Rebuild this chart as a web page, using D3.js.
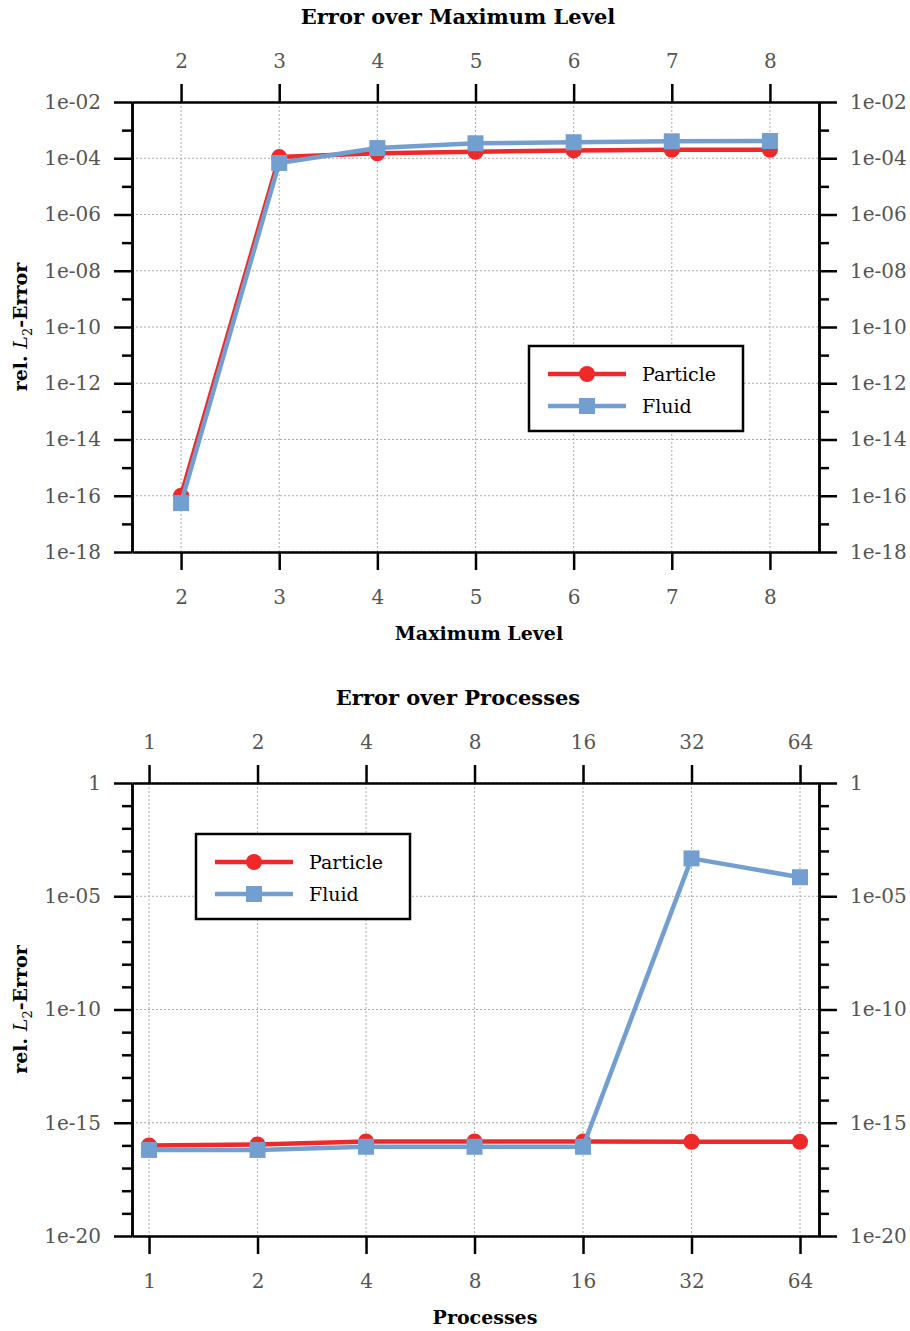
<!DOCTYPE html>
<html>
<head>
<meta charset="utf-8">
<script src="https://cdn.jsdelivr.net/npm/d3@7"></script>
<style>
  body { margin: 0; background: #fff; }
  svg text { font-family: "DejaVu Serif", serif; }
</style>
</head>
<body>
<div id="chart"></div>
<script>
// Data
const LEVELS = [2, 3, 4, 5, 6, 7, 8];
const LEVEL_PARTICLE = [1.0e-16, 1.1e-4, 1.5e-4, 1.7e-4, 1.9e-4, 2.0e-4, 2.0e-4];
const LEVEL_FLUID = [5.5e-17, 6.8e-5, 2.3e-4, 3.4e-4, 3.7e-4, 4.0e-4, 4.1e-4];
const LEVEL_Y_TICKS = [1e-2, 1e-4, 1e-6, 1e-8, 1e-10, 1e-12, 1e-14, 1e-16, 1e-18];
const LEVEL_Y_LABELS = ["1e-02", "1e-04", "1e-06", "1e-08", "1e-10", "1e-12", "1e-14", "1e-16", "1e-18"];

const PROCS = [1, 2, 4, 8, 16, 32, 64];
const PROC_PARTICLE = [1.0e-16, 1.1e-16, 1.5e-16, 1.5e-16, 1.5e-16, 1.45e-16, 1.45e-16];
const PROC_FLUID = [6.3e-17, 6.3e-17, 8.7e-17, 8.7e-17, 8.7e-17, 4.7e-4, 6.9e-5];
const PROC_Y_TICKS = [1, 1e-5, 1e-10, 1e-15, 1e-20];
const PROC_Y_LABELS = ["1", "1e-05", "1e-10", "1e-15", "1e-20"];

const SERIES_NAMES = ["Particle", "Fluid"];
const COLORS = ["#ef2929", "#729fcf"];

const WIDTH = 910;
const HEIGHT = 1331;

const svg = d3.select("#chart").append("svg")
  .attr("width", WIDTH)
  .attr("height", HEIGHT);

function styleAxis(g) {
  g.selectAll("path.domain").attr("stroke", "#000").attr("stroke-width", 2.5);
  g.selectAll(".tick line").attr("stroke", "#000").attr("stroke-width", 2.5);
  g.selectAll(".tick text")
    .attr("fill", "#555")
    .style("font-size", "20px")
    .style("font-family", "'DejaVu Serif', serif");
}

function drawPanel(p) {
  const g = svg.append("g");
  const { x, y, left, right, top, bottom } = p;

  // grid
  g.append("g").selectAll("line.gx").data(p.xValues).enter().append("line")
    .attr("x1", d => x(d)).attr("x2", d => x(d))
    .attr("y1", top).attr("y2", bottom)
    .attr("stroke", "#aaa").attr("stroke-width", 1).attr("stroke-dasharray", "2,2");
  g.append("g").selectAll("line.gy").data(p.yTicks).enter().append("line")
    .attr("x1", left).attr("x2", right)
    .attr("y1", d => y(d)).attr("y2", d => y(d))
    .attr("stroke", "#aaa").attr("stroke-width", 1).attr("stroke-dasharray", "2,2");

  // minor y ticks
  [[d3.axisLeft, left], [d3.axisRight, right]].forEach(([ax, pos]) => {
    g.append("g").attr("transform", `translate(${pos},0)`)
      .call(ax(y).tickValues(p.yMinor).tickSize(10).tickSizeOuter(0).tickFormat(""))
      .call(styleAxis);
  });

  // major axes
  const fmt = d => p.yLabels[p.yTicks.indexOf(d)];
  g.append("g").attr("transform", `translate(${left},0)`)
    .call(d3.axisLeft(y).tickValues(p.yTicks).tickSize(18).tickSizeOuter(0).tickPadding(13).tickFormat(fmt))
    .call(styleAxis);
  g.append("g").attr("transform", `translate(${right},0)`)
    .call(d3.axisRight(y).tickValues(p.yTicks).tickSize(18).tickSizeOuter(0).tickPadding(13).tickFormat(fmt))
    .call(styleAxis);
  g.append("g").attr("transform", `translate(0,${top})`)
    .call(d3.axisTop(x).tickValues(p.xValues).tickSize(18).tickSizeOuter(0).tickPadding(16).tickFormat(d => d))
    .call(styleAxis);
  g.append("g").attr("transform", `translate(0,${bottom})`)
    .call(d3.axisBottom(x).tickValues(p.xValues).tickSize(18).tickSizeOuter(0).tickPadding(20).tickFormat(d => d))
    .call(styleAxis);

  // series
  const line = d3.line().x(d => x(d[0])).y(d => y(d[1]));
  p.series.forEach((vals, i) => {
    const pts = p.xValues.map((v, j) => [v, vals[j]]);
    g.append("path").datum(pts)
      .attr("d", line).attr("fill", "none")
      .attr("stroke", COLORS[i]).attr("stroke-width", 4.5).attr("stroke-linejoin", "round");
    if (i === 0) {
      g.selectAll(null).data(pts).enter().append("circle")
        .attr("cx", d => x(d[0])).attr("cy", d => y(d[1])).attr("r", 8)
        .attr("fill", COLORS[i]);
    } else {
      g.selectAll(null).data(pts).enter().append("rect")
        .attr("x", d => x(d[0]) - 8).attr("y", d => y(d[1]) - 8)
        .attr("width", 16).attr("height", 16)
        .attr("fill", COLORS[i]);
    }
  });

  // titles
  g.append("text").attr("x", 458).attr("y", p.titleY)
    .attr("text-anchor", "middle").style("font-size", "21px").style("font-weight", "bold")
    .text(p.title);
  g.append("text").attr("x", p.xTitleX).attr("y", p.xTitleY)
    .attr("text-anchor", "middle").style("font-size", "19px").style("font-weight", "bold")
    .text(p.xTitle);

  const yl = g.append("text")
    .attr("transform", `translate(27,${(top + bottom) / 2}) rotate(-90)`)
    .attr("text-anchor", "middle").style("font-size", "19px");
  yl.append("tspan").style("font-weight", "bold").text("rel. ");
  yl.append("tspan").style("font-style", "italic").text("L");
  yl.append("tspan").attr("dy", 5).style("font-size", "13px").text("2");
  yl.append("tspan").attr("dy", -5).style("font-weight", "bold").text("-Error");

  // legend
  const lg = g.append("g").attr("transform", `translate(${p.legendX},${p.legendY})`);
  lg.append("rect").attr("width", 214).attr("height", 85)
    .attr("fill", "#fff").attr("stroke", "#000").attr("stroke-width", 2.5);
  SERIES_NAMES.forEach((name, i) => {
    const ly = 28 + i * 32;
    lg.append("line").attr("x1", 19).attr("x2", 97).attr("y1", ly).attr("y2", ly)
      .attr("stroke", COLORS[i]).attr("stroke-width", 4.5);
    if (i === 0) {
      lg.append("circle").attr("cx", 58).attr("cy", ly).attr("r", 8).attr("fill", COLORS[i]);
    } else {
      lg.append("rect").attr("x", 50).attr("y", ly - 8).attr("width", 16).attr("height", 16).attr("fill", COLORS[i]);
    }
    lg.append("text").attr("x", 113).attr("y", ly + 7)
      .style("font-size", "19px").attr("fill", "#000").text(name);
  });
}

// Panel 1: error over maximum level
const left = 132, right = 819;
drawPanel({
  left, right, top: 102, bottom: 552,
  x: d3.scaleLinear().domain([1.5, 8.5]).range([left, right]),
  y: d3.scaleLog().domain([1e-18, 1e-2]).range([552, 102]),
  xValues: LEVELS,
  yTicks: LEVEL_Y_TICKS,
  yLabels: LEVEL_Y_LABELS,
  yMinor: d3.range(-17, -2, 2).map(e => Math.pow(10, e)),
  series: [LEVEL_PARTICLE, LEVEL_FLUID],
  title: "Error over Maximum Level",
  xTitle: "Maximum Level",
  titleY: 24, xTitleX: 479, xTitleY: 640,
  legendX: 529, legendY: 346
});

// Panel 2: error over processes
drawPanel({
  left, right, top: 783, bottom: 1236,
  x: d3.scaleLog().base(2).domain([Math.pow(2, -0.157), Math.pow(2, 6.175)]).range([left, right]),
  y: d3.scaleLog().domain([1e-20, 1]).range([1236, 783]),
  xValues: PROCS,
  yTicks: PROC_Y_TICKS,
  yLabels: PROC_Y_LABELS,
  yMinor: d3.range(-19, 0).filter(e => e % 5 !== 0).map(e => Math.pow(10, e)),
  series: [PROC_PARTICLE, PROC_FLUID],
  title: "Error over Processes",
  xTitle: "Processes",
  titleY: 705, xTitleX: 485, xTitleY: 1324,
  legendX: 196, legendY: 834
});
</script>
</body>
</html>
